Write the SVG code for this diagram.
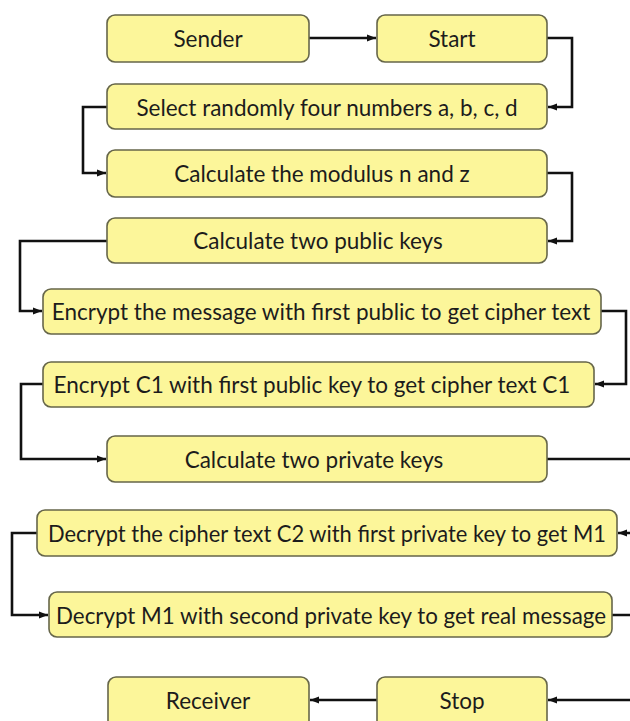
<svg xmlns="http://www.w3.org/2000/svg" width="630" height="721" viewBox="0 0 630 721">
  <style>
    .box { fill: #fcf69a; stroke: #66664a; stroke-width: 1.6; }
    .lbl { font-family: Lato, "Open Sans", "Liberation Sans", sans-serif; font-size: 22.5px; fill: #1c1c1c; text-anchor: middle; dominant-baseline: central; }
    .wire { fill: none; stroke: #111; stroke-width: 2.6; }
  </style>
  <defs>
    <marker id="arrow" markerUnits="userSpaceOnUse" markerWidth="10" markerHeight="10" refX="9" refY="5" orient="auto">
      <path d="M0,1.5 L9,5 L0,8.5 Z" fill="#111"/>
    </marker>
  </defs>
  <rect width="630" height="721" fill="#ffffff"/>

  <g id="connectors">
    <path class="wire" marker-end="url(#arrow)" d="M309 38 H376"/>
    <path class="wire" marker-end="url(#arrow)" d="M547 38 H572 V107 H548"/>
    <path class="wire" marker-end="url(#arrow)" d="M107 107 H83 V173 H106"/>
    <path class="wire" marker-end="url(#arrow)" d="M547 173 H572 V241 H548"/>
    <path class="wire" marker-end="url(#arrow)" d="M107 241 H20 V311 H42"/>
    <path class="wire" marker-end="url(#arrow)" d="M601 311 H626 V384 H595"/>
    <path class="wire" marker-end="url(#arrow)" d="M43 384 H21 V459 H106"/>
    <path class="wire" marker-end="url(#arrow)" d="M547 459 H640 V533 H618"/>
    <path class="wire" marker-end="url(#arrow)" d="M37 533 H12 V615 H48"/>
    <path class="wire" marker-end="url(#arrow)" d="M612 615 H640 V700 H548"/>
    <path class="wire" marker-end="url(#arrow)" d="M377 700 H310"/>
  </g>

  <g id="sender">
    <rect class="box" x="107" y="15" width="202" height="47" rx="8"/>
    <text class="lbl" x="208" y="38">Sender</text>
  </g>
  <g id="start">
    <rect class="box" x="377" y="15" width="170" height="47" rx="8"/>
    <text class="lbl" x="452" y="38">Start</text>
  </g>
  <g id="select-numbers">
    <rect class="box" x="107" y="84" width="440" height="45" rx="8"/>
    <text class="lbl" x="327" y="107">Select randomly four numbers a, b, c, d</text>
  </g>
  <g id="calc-modulus">
    <rect class="box" x="107" y="150" width="440" height="47" rx="8"/>
    <text class="lbl" x="322" y="173">Calculate the modulus n and z</text>
  </g>
  <g id="calc-public-keys">
    <rect class="box" x="107" y="218" width="440" height="45" rx="8"/>
    <text class="lbl" x="318" y="240">Calculate two public keys</text>
  </g>
  <g id="encrypt-message">
    <rect class="box" x="43" y="289" width="558" height="45" rx="8"/>
    <text class="lbl" x="321" y="311">Encrypt the message with first public to get cipher text</text>
  </g>
  <g id="encrypt-c1">
    <rect class="box" x="43" y="362" width="551" height="45" rx="8"/>
    <text class="lbl" x="312" y="384">Encrypt C1 with first public key to get cipher text C1</text>
  </g>
  <g id="calc-private-keys">
    <rect class="box" x="107" y="436" width="440" height="46" rx="8"/>
    <text class="lbl" x="314" y="459">Calculate two private keys</text>
  </g>
  <g id="decrypt-c2">
    <rect class="box" x="37" y="510" width="580" height="46" rx="8"/>
    <text class="lbl" x="327" y="533" textLength="558" lengthAdjust="spacingAndGlyphs">Decrypt the cipher text C2 with first private key to get M1</text>
  </g>
  <g id="decrypt-m1">
    <rect class="box" x="49" y="592" width="563" height="45" rx="8"/>
    <text class="lbl" x="331" y="615" textLength="550" lengthAdjust="spacingAndGlyphs">Decrypt M1 with second private key to get real message</text>
  </g>
  <g id="receiver">
    <rect class="box" x="108" y="677" width="201" height="52" rx="8"/>
    <text class="lbl" x="208" y="700">Receiver</text>
  </g>
  <g id="stop">
    <rect class="box" x="377" y="677" width="170" height="52" rx="8"/>
    <text class="lbl" x="462" y="700">Stop</text>
  </g>
</svg>
